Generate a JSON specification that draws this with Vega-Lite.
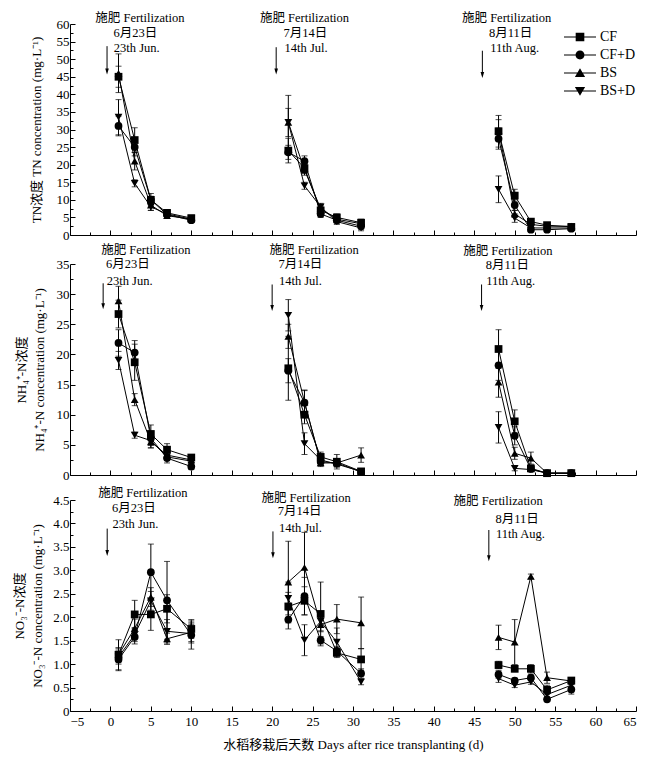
{
"$schema":"https://vega.github.io/schema/vega-lite/v6.json",
"background":"white",
"padding":{"left":13,"top":12,"right":5,"bottom":5},
"config":{"view":{"stroke":null},"font":"Liberation Serif",
 "axis":{"grid":false,"labelFont":"Liberation Serif","labelFontSize":13,"labelColor":"black","titleFont":"Liberation Serif, Noto Sans CJK SC","titleFontSize":13,"titleFontWeight":"normal","titleColor":"black","domainColor":"black","tickColor":"black","domainWidth":1,"tickWidth":1}},
"datasets":{
"tn":[
{"series":"CF","period":1,"day":1,"value":45,"sd":3},{"series":"CF","period":1,"day":3,"value":27,"sd":3.5},{"series":"CF","period":1,"day":5,"value":10,"sd":1.8},{"series":"CF","period":1,"day":7,"value":6.3,"sd":0.8},{"series":"CF","period":1,"day":10,"value":4.8,"sd":0.8},
{"series":"CF","period":2,"day":22,"value":24,"sd":3.5},{"series":"CF","period":2,"day":24,"value":19,"sd":1.5},{"series":"CF","period":2,"day":26,"value":7,"sd":1},{"series":"CF","period":2,"day":28,"value":5,"sd":1},{"series":"CF","period":2,"day":31,"value":3.5,"sd":1},
{"series":"CF","period":3,"day":48,"value":29.5,"sd":4.5},{"series":"CF","period":3,"day":50,"value":11.2,"sd":1.8},{"series":"CF","period":3,"day":52,"value":3.8,"sd":0.8},{"series":"CF","period":3,"day":54,"value":2.8,"sd":0.5},{"series":"CF","period":3,"day":57,"value":2.3,"sd":0.6},
{"series":"CF+D","period":1,"day":1,"value":31,"sd":2.8},{"series":"CF+D","period":1,"day":3,"value":25,"sd":2.5},{"series":"CF+D","period":1,"day":5,"value":10,"sd":1},{"series":"CF+D","period":1,"day":7,"value":5.8,"sd":0.6},{"series":"CF+D","period":1,"day":10,"value":4.2,"sd":0.6},
{"series":"CF+D","period":2,"day":22,"value":23.5,"sd":2},{"series":"CF+D","period":2,"day":24,"value":21,"sd":1.5},{"series":"CF+D","period":2,"day":26,"value":6,"sd":1},{"series":"CF+D","period":2,"day":28,"value":4.2,"sd":0.8},{"series":"CF+D","period":2,"day":31,"value":2.5,"sd":0.8},
{"series":"CF+D","period":3,"day":48,"value":27.4,"sd":3},{"series":"CF+D","period":3,"day":50,"value":8.5,"sd":1.5},{"series":"CF+D","period":3,"day":52,"value":1.5,"sd":0.5},{"series":"CF+D","period":3,"day":54,"value":1.5,"sd":0.5},{"series":"CF+D","period":3,"day":57,"value":1.8,"sd":0.5},
{"series":"BS","period":1,"day":1,"value":46,"sd":5.5},{"series":"BS","period":1,"day":3,"value":21,"sd":2.5},{"series":"BS","period":1,"day":5,"value":8.5,"sd":1.5},{"series":"BS","period":1,"day":7,"value":5.5,"sd":0.8},{"series":"BS","period":1,"day":10,"value":4.5,"sd":0.5},
{"series":"BS","period":2,"day":22,"value":32,"sd":7.7},{"series":"BS","period":2,"day":24,"value":18.5,"sd":1.5},{"series":"BS","period":2,"day":26,"value":7.5,"sd":1},{"series":"BS","period":2,"day":28,"value":4.5,"sd":1},{"series":"BS","period":2,"day":31,"value":3.2,"sd":1},
{"series":"BS","period":3,"day":48,"value":29.8,"sd":3},{"series":"BS","period":3,"day":50,"value":6,"sd":1},{"series":"BS","period":3,"day":52,"value":3,"sd":0.8},{"series":"BS","period":3,"day":54,"value":2.5,"sd":0.5},{"series":"BS","period":3,"day":57,"value":2.5,"sd":0.6},
{"series":"BS+D","period":1,"day":1,"value":33.5,"sd":5},{"series":"BS+D","period":1,"day":3,"value":14.7,"sd":1},{"series":"BS+D","period":1,"day":5,"value":8,"sd":1},{"series":"BS+D","period":1,"day":7,"value":6,"sd":0.7},{"series":"BS+D","period":1,"day":10,"value":4.5,"sd":0.5},
{"series":"BS+D","period":2,"day":22,"value":32,"sd":4},{"series":"BS+D","period":2,"day":24,"value":14,"sd":1},{"series":"BS+D","period":2,"day":26,"value":8,"sd":1},{"series":"BS+D","period":2,"day":28,"value":3.8,"sd":0.8},{"series":"BS+D","period":2,"day":31,"value":2,"sd":0.8},
{"series":"BS+D","period":3,"day":48,"value":13,"sd":3.8},{"series":"BS+D","period":3,"day":50,"value":4.8,"sd":1.2},{"series":"BS+D","period":3,"day":52,"value":2,"sd":0.6},{"series":"BS+D","period":3,"day":54,"value":2,"sd":0.5},{"series":"BS+D","period":3,"day":57,"value":2,"sd":0.5}
],
"nh4":[
{"series":"CF","period":1,"day":1,"value":26.7,"sd":2.3},{"series":"CF","period":1,"day":3,"value":18.7,"sd":3},{"series":"CF","period":1,"day":5,"value":6.8,"sd":1.5},{"series":"CF","period":1,"day":7,"value":4.2,"sd":1},{"series":"CF","period":1,"day":10,"value":2.9,"sd":0.4},
{"series":"CF","period":2,"day":22,"value":17.7,"sd":5.3},{"series":"CF","period":2,"day":24,"value":10,"sd":1.5},{"series":"CF","period":2,"day":26,"value":3,"sd":0.8},{"series":"CF","period":2,"day":28,"value":2.2,"sd":1.2},{"series":"CF","period":2,"day":31,"value":0.6,"sd":0.2},
{"series":"CF","period":3,"day":48,"value":20.9,"sd":3.2},{"series":"CF","period":3,"day":50,"value":8.9,"sd":1.9},{"series":"CF","period":3,"day":52,"value":1.1,"sd":0.5},{"series":"CF","period":3,"day":54,"value":0.3,"sd":0.1},{"series":"CF","period":3,"day":57,"value":0.3,"sd":0.1},
{"series":"CF+D","period":1,"day":1,"value":21.9,"sd":2.2},{"series":"CF+D","period":1,"day":3,"value":20.3,"sd":2},{"series":"CF+D","period":1,"day":5,"value":6.1,"sd":1.2},{"series":"CF+D","period":1,"day":7,"value":2.8,"sd":0.8},{"series":"CF+D","period":1,"day":10,"value":1.4,"sd":0.5},
{"series":"CF+D","period":2,"day":22,"value":17.3,"sd":2},{"series":"CF+D","period":2,"day":24,"value":12,"sd":2},{"series":"CF+D","period":2,"day":26,"value":2.2,"sd":0.6},{"series":"CF+D","period":2,"day":28,"value":2,"sd":0.6},{"series":"CF+D","period":2,"day":31,"value":0.5,"sd":0.2},
{"series":"CF+D","period":3,"day":48,"value":18.2,"sd":2.5},{"series":"CF+D","period":3,"day":50,"value":6.5,"sd":1.5},{"series":"CF+D","period":3,"day":52,"value":1,"sd":0.3},{"series":"CF+D","period":3,"day":54,"value":0.3,"sd":0.1},{"series":"CF+D","period":3,"day":57,"value":0.3,"sd":0.1},
{"series":"BS","period":1,"day":1,"value":28.9,"sd":2.4},{"series":"BS","period":1,"day":3,"value":12.5,"sd":1},{"series":"BS","period":1,"day":5,"value":5.5,"sd":1},{"series":"BS","period":1,"day":7,"value":3.3,"sd":0.6},{"series":"BS","period":1,"day":10,"value":2.5,"sd":0.4},
{"series":"BS","period":2,"day":22,"value":23,"sd":2},{"series":"BS","period":2,"day":24,"value":12.1,"sd":2},{"series":"BS","period":2,"day":26,"value":2,"sd":0.6},{"series":"BS","period":2,"day":28,"value":2,"sd":0.6},{"series":"BS","period":2,"day":31,"value":3.3,"sd":1.2},
{"series":"BS","period":3,"day":48,"value":15.4,"sd":2.5},{"series":"BS","period":3,"day":50,"value":3.6,"sd":1},{"series":"BS","period":3,"day":52,"value":2.8,"sd":1},{"series":"BS","period":3,"day":54,"value":0.3,"sd":0.1},{"series":"BS","period":3,"day":57,"value":0.3,"sd":0.1},
{"series":"BS+D","period":1,"day":1,"value":19,"sd":1.5},{"series":"BS+D","period":1,"day":3,"value":6.6,"sd":0.5},{"series":"BS+D","period":1,"day":5,"value":5.7,"sd":1.2},{"series":"BS+D","period":1,"day":7,"value":3,"sd":0.6},{"series":"BS+D","period":1,"day":10,"value":2.3,"sd":0.4},
{"series":"BS+D","period":2,"day":22,"value":26.5,"sd":2.6},{"series":"BS+D","period":2,"day":24,"value":5.2,"sd":1.8},{"series":"BS+D","period":2,"day":26,"value":2.5,"sd":0.6},{"series":"BS+D","period":2,"day":28,"value":1.8,"sd":0.5},{"series":"BS+D","period":2,"day":31,"value":0.6,"sd":0.2},
{"series":"BS+D","period":3,"day":48,"value":7.9,"sd":2.6},{"series":"BS+D","period":3,"day":50,"value":1.1,"sd":0.4},{"series":"BS+D","period":3,"day":52,"value":0.9,"sd":0.3},{"series":"BS+D","period":3,"day":54,"value":0.3,"sd":0.1},{"series":"BS+D","period":3,"day":57,"value":0.3,"sd":0.1}
],
"no3":[
{"series":"CF","period":1,"day":1,"value":1.2,"sd":0.32},{"series":"CF","period":1,"day":3,"value":2.06,"sd":0.3},{"series":"CF","period":1,"day":5,"value":2.06,"sd":0.34},{"series":"CF","period":1,"day":7,"value":2.18,"sd":0.3},{"series":"CF","period":1,"day":10,"value":1.75,"sd":0.2},
{"series":"CF","period":2,"day":22,"value":2.23,"sd":0.3},{"series":"CF","period":2,"day":24,"value":2.35,"sd":0.3},{"series":"CF","period":2,"day":26,"value":2.07,"sd":0.68},{"series":"CF","period":2,"day":28,"value":1.24,"sd":0.1},{"series":"CF","period":2,"day":31,"value":1.1,"sd":0.23},
{"series":"CF","period":3,"day":48,"value":0.98,"sd":0.08},{"series":"CF","period":3,"day":50,"value":0.9,"sd":0.06},{"series":"CF","period":3,"day":52,"value":0.9,"sd":0.09},{"series":"CF","period":3,"day":54,"value":0.45,"sd":0.1},{"series":"CF","period":3,"day":57,"value":0.65,"sd":0.06},
{"series":"CF+D","period":1,"day":1,"value":1.1,"sd":0.24},{"series":"CF+D","period":1,"day":3,"value":1.58,"sd":0.15},{"series":"CF+D","period":1,"day":5,"value":2.96,"sd":0.6},{"series":"CF+D","period":1,"day":7,"value":2.36,"sd":0.83},{"series":"CF+D","period":1,"day":10,"value":1.62,"sd":0.3},
{"series":"CF+D","period":2,"day":22,"value":1.95,"sd":0.2},{"series":"CF+D","period":2,"day":24,"value":2.45,"sd":0.4},{"series":"CF+D","period":2,"day":26,"value":1.51,"sd":0.08},{"series":"CF+D","period":2,"day":28,"value":1.28,"sd":0.1},{"series":"CF+D","period":2,"day":31,"value":0.8,"sd":0.1},
{"series":"CF+D","period":3,"day":48,"value":0.78,"sd":0.08},{"series":"CF+D","period":3,"day":50,"value":0.65,"sd":0.05},{"series":"CF+D","period":3,"day":52,"value":0.71,"sd":0.06},{"series":"CF+D","period":3,"day":54,"value":0.25,"sd":0.04},{"series":"CF+D","period":3,"day":57,"value":0.46,"sd":0.1},
{"series":"BS","period":1,"day":1,"value":1.2,"sd":0.15},{"series":"BS","period":1,"day":3,"value":1.76,"sd":0.2},{"series":"BS","period":1,"day":5,"value":2.43,"sd":0.2},{"series":"BS","period":1,"day":7,"value":1.54,"sd":0.12},{"series":"BS","period":1,"day":10,"value":1.68,"sd":0.2},
{"series":"BS","period":2,"day":22,"value":2.75,"sd":0.87},{"series":"BS","period":2,"day":24,"value":3.06,"sd":0.75},{"series":"BS","period":2,"day":26,"value":1.84,"sd":0.15},{"series":"BS","period":2,"day":28,"value":1.96,"sd":0.31},{"series":"BS","period":2,"day":31,"value":1.88,"sd":0.55},
{"series":"BS","period":3,"day":48,"value":1.57,"sd":0.26},{"series":"BS","period":3,"day":50,"value":1.47,"sd":0.48},{"series":"BS","period":3,"day":52,"value":2.87,"sd":0.05},{"series":"BS","period":3,"day":54,"value":0.71,"sd":0.12},{"series":"BS","period":3,"day":57,"value":0.64,"sd":0.06},
{"series":"BS+D","period":1,"day":1,"value":1.15,"sd":0.15},{"series":"BS+D","period":1,"day":3,"value":1.63,"sd":0.15},{"series":"BS+D","period":1,"day":5,"value":2.35,"sd":0.2},{"series":"BS+D","period":1,"day":7,"value":1.7,"sd":0.25},{"series":"BS+D","period":1,"day":10,"value":1.65,"sd":0.2},
{"series":"BS+D","period":2,"day":22,"value":2.4,"sd":0.35},{"series":"BS+D","period":2,"day":24,"value":1.51,"sd":0.33},{"series":"BS+D","period":2,"day":26,"value":1.91,"sd":0.2},{"series":"BS+D","period":2,"day":28,"value":1.47,"sd":0.3},{"series":"BS+D","period":2,"day":31,"value":0.62,"sd":0.06},
{"series":"BS+D","period":3,"day":48,"value":0.69,"sd":0.08},{"series":"BS+D","period":3,"day":50,"value":0.55,"sd":0.05},{"series":"BS+D","period":3,"day":52,"value":0.62,"sd":0.05},{"series":"BS+D","period":3,"day":54,"value":0.35,"sd":0.05},{"series":"BS+D","period":3,"day":57,"value":0.55,"sd":0.06}
],
"tn_text":[
{"day":3.65,"value":61.6,"label":"施肥 Fertilization"},{"day":3.1,"value":57.5,"label":"6月23日"},{"day":3.25,"value":53.1,"label":"23th Jun."},
{"day":24.0,"value":61.6,"label":"施肥 Fertilization"},{"day":24.1,"value":57.5,"label":"7月14日"},{"day":24.2,"value":53.1,"label":"14th Jul."},
{"day":49.0,"value":61.6,"label":"施肥 Fertilization"},{"day":49.5,"value":57.5,"label":"8月11日"},{"day":50.0,"value":53.1,"label":"11th Aug."}],
"tn_arrow":[{"day":-0.42,"value":53.7,"value2":46.5},{"day":20.5,"value":53.4,"value2":46.5},{"day":46.0,"value":52.4,"value2":45.5}],
"nh4_text":[
{"day":4.37,"value":37.3,"label":"施肥 Fertilization"},{"day":2.16,"value":35.0,"label":"6月23日"},{"day":2.37,"value":32.2,"label":"23th Jun."},
{"day":25.2,"value":37.3,"label":"施肥 Fertilization"},{"day":23.5,"value":35.0,"label":"7月14日"},{"day":23.5,"value":32.2,"label":"14th Jul."},
{"day":49.15,"value":37.1,"label":"施肥 Fertilization"},{"day":49.1,"value":34.9,"label":"8月11日"},{"day":49.5,"value":32.1,"label":"11th Aug."}],
"nh4_arrow":[{"day":-0.9,"value":31.8,"value2":28.0},{"day":20.0,"value":31.6,"value2":27.7},{"day":45.9,"value":31.6,"value2":27.7}],
"no3_text":[
{"day":4.0,"value":4.64,"label":"施肥 Fertilization"},{"day":2.9,"value":4.33,"label":"6月23日"},{"day":3.1,"value":3.99,"label":"23th Jun."},
{"day":24.2,"value":4.55,"label":"施肥 Fertilization"},{"day":23.4,"value":4.26,"label":"7月14日"},{"day":23.5,"value":3.91,"label":"14th Jul."},
{"day":47.96,"value":4.48,"label":"施肥 Fertilization"},{"day":50.3,"value":4.10,"label":"8月11日"},{"day":50.7,"value":3.77,"label":"11th Aug."}],
"no3_arrow":[{"day":-0.4,"value":3.89,"value2":3.37},{"day":20.1,"value":3.83,"value2":3.32},{"day":46.8,"value":3.86,"value2":3.26}]
},
"vconcat":[
{
"width":566,"height":211,
"resolve":{"axis":{"x":"independent","y":"independent"},"scale":{"shape":"independent"}},
"layer":[
{"data":{"name":"tn"},"mark":{"type":"errorbar","ticks":{"size":6},"color":"black","thickness":1},
 "encoding":{"x":{"field":"day","type":"quantitative","scale":{"domain":[-5,65],"nice":false,"zero":false},"axis":null},
  "y":{"field":"value","type":"quantitative","scale":{"domain":[0,60],"nice":false},"axis":null},"yError":{"field":"sd"}}},
{"data":{"name":"tn"},"mark":{"type":"line","color":"black","strokeWidth":1},
 "encoding":{"x":{"field":"day","type":"quantitative","scale":{"domain":[-5,65],"nice":false,"zero":false},
   "axis":{"orient":"bottom","values":[-5,0,5,10,15,20,25,30,35,40,45,50,55,60,65],"labels":false,"title":null,"tickSize":-5}},
  "y":{"field":"value","type":"quantitative","scale":{"domain":[0,60],"nice":false},
   "axis":{"orient":"left","values":[0,5,10,15,20,25,30,35,40,45,50,55,60],"tickSize":-5,"labelPadding":6,"title":"TN浓度 TN concentration (mg·L⁻¹)","titlePadding":13}},
  "detail":[{"field":"series"},{"field":"period"}]}},
{"data":{"name":"tn"},"mark":{"type":"point","filled":true,"color":"black","size":60,"opacity":1},
 "encoding":{"x":{"field":"day","type":"quantitative","scale":{"domain":[-5,65],"nice":false,"zero":false},
   "axis":{"orient":"bottom","values":[-2.5,2.5,7.5,12.5,17.5,22.5,27.5,32.5,37.5,42.5,47.5,52.5,57.5,62.5],"labels":false,"domain":false,"title":null,"tickSize":-3}},
  "y":{"field":"value","type":"quantitative","scale":{"domain":[0,60],"nice":false},
   "axis":{"orient":"left","values":[2.5,7.5,12.5,17.5,22.5,27.5,32.5,37.5,42.5,47.5,52.5,57.5],"labels":false,"domain":false,"title":null,"tickSize":-3}},
  "shape":{"field":"series","type":"nominal","scale":{"domain":["CF","CF+D","BS","BS+D"],"range":["square","circle","triangle-up","triangle-down"]},"legend":null}}},
{"data":{"name":"tn"},"mark":{"type":"point","filled":true,"color":"black","size":1024,"opacity":0},
 "encoding":{"x":{"field":"day","type":"quantitative","scale":{"domain":[-5,65],"nice":false,"zero":false},"axis":null},
  "y":{"field":"value","type":"quantitative","scale":{"domain":[0,60],"nice":false},"axis":null},
  "shape":{"field":"series","type":"nominal","scale":{"domain":["CF","CF+D","BS","BS+D"],"range":["M-1,-0.035H1V0.035H-1ZM-0.27,-0.27H0.27V0.27H-0.27Z","M-1,-0.035H1V0.035H-1ZM0.28,0A0.28,0.28,0,1,1,-0.28,0A0.28,0.28,0,1,1,0.28,0Z","M-1,-0.035H1V0.035H-1ZM0,-0.3L0.32,0.25L-0.32,0.25Z","M-1,-0.035H1V0.035H-1ZM0,0.3L-0.32,-0.25L0.32,-0.25Z"]},
   "legend":{"orient":"none","legendX":494,"legendY":4,"title":null,"symbolSize":1024,"symbolFillColor":"black","symbolStrokeColor":"black","symbolStrokeWidth":0,"symbolOpacity":1,"labelFont":"Liberation Serif","labelFontSize":14,"labelColor":"black","labelOffset":4,"clipHeight":18,"rowPadding":0,"padding":0}}}},
{"data":{"name":"tn_arrow"},"mark":{"type":"rule","color":"black","strokeWidth":1},
 "encoding":{"x":{"field":"day","type":"quantitative","scale":{"domain":[-5,65],"nice":false,"zero":false},"axis":null},
  "y":{"field":"value","type":"quantitative","scale":{"domain":[0,60],"nice":false},"axis":null},"y2":{"field":"value2"}}},
{"data":{"name":"tn_arrow"},"mark":{"type":"point","filled":true,"color":"black","size":36,"opacity":1,"shape":"M-0.6,-1H0.6L0,1Z"},
 "encoding":{"x":{"field":"day","type":"quantitative","scale":{"domain":[-5,65],"nice":false,"zero":false},"axis":null},
  "y":{"field":"value2","type":"quantitative","scale":{"domain":[0,60],"nice":false},"axis":null}}},
{"data":{"name":"tn_text"},"mark":{"type":"text","color":"black","font":"Liberation Serif, Noto Sans CJK SC","fontSize":12.5,"align":"center","baseline":"middle"},
 "encoding":{"x":{"field":"day","type":"quantitative","scale":{"domain":[-5,65],"nice":false,"zero":false},"axis":null},
  "y":{"field":"value","type":"quantitative","scale":{"domain":[0,60],"nice":false},"axis":null},"text":{"field":"label"}}}
]
},
{
"vconcat":[
{
"width":566,"height":211,
"resolve":{"axis":{"x":"independent","y":"independent"}},
"layer":[
{"data":{"name":"nh4"},"mark":{"type":"errorbar","ticks":{"size":6},"color":"black","thickness":1},
 "encoding":{"x":{"field":"day","type":"quantitative","scale":{"domain":[-5,65],"nice":false,"zero":false},"axis":null},
  "y":{"field":"value","type":"quantitative","scale":{"domain":[0,35],"nice":false},"axis":null},"yError":{"field":"sd"}}},
{"data":{"name":"nh4"},"mark":{"type":"line","color":"black","strokeWidth":1},
 "encoding":{"x":{"field":"day","type":"quantitative","scale":{"domain":[-5,65],"nice":false,"zero":false},
   "axis":{"orient":"bottom","values":[-5,0,5,10,15,20,25,30,35,40,45,50,55,60,65],"labels":false,"title":null,"tickSize":-5}},
  "y":{"field":"value","type":"quantitative","scale":{"domain":[0,35],"nice":false},
   "axis":{"orient":"left","values":[0,5,10,15,20,25,30,35],"tickSize":-5,"labelPadding":6,"title":["NH₄⁺-N浓度","NH₄⁺-N concentration (mg·L⁻¹)"],"titlePadding":10,"titleLineHeight":18}},
  "detail":[{"field":"series"},{"field":"period"}]}},
{"data":{"name":"nh4"},"mark":{"type":"point","filled":true,"color":"black","size":60,"opacity":1},
 "encoding":{"x":{"field":"day","type":"quantitative","scale":{"domain":[-5,65],"nice":false,"zero":false},
   "axis":{"orient":"bottom","values":[-2.5,2.5,7.5,12.5,17.5,22.5,27.5,32.5,37.5,42.5,47.5,52.5,57.5,62.5],"labels":false,"domain":false,"title":null,"tickSize":-3}},
  "y":{"field":"value","type":"quantitative","scale":{"domain":[0,35],"nice":false},
   "axis":{"orient":"left","values":[2.5,7.5,12.5,17.5,22.5,27.5,32.5],"labels":false,"domain":false,"title":null,"tickSize":-3}},
  "shape":{"field":"series","type":"nominal","scale":{"domain":["CF","CF+D","BS","BS+D"],"range":["square","circle","triangle-up","triangle-down"]},"legend":null}}},
{"data":{"name":"nh4_arrow"},"mark":{"type":"rule","color":"black","strokeWidth":1},
 "encoding":{"x":{"field":"day","type":"quantitative","scale":{"domain":[-5,65],"nice":false,"zero":false},"axis":null},
  "y":{"field":"value","type":"quantitative","scale":{"domain":[0,35],"nice":false},"axis":null},"y2":{"field":"value2"}}},
{"data":{"name":"nh4_arrow"},"mark":{"type":"point","filled":true,"color":"black","size":36,"opacity":1,"shape":"M-0.6,-1H0.6L0,1Z"},
 "encoding":{"x":{"field":"day","type":"quantitative","scale":{"domain":[-5,65],"nice":false,"zero":false},"axis":null},
  "y":{"field":"value2","type":"quantitative","scale":{"domain":[0,35],"nice":false},"axis":null}}},
{"data":{"name":"nh4_text"},"mark":{"type":"text","color":"black","font":"Liberation Serif, Noto Sans CJK SC","fontSize":12.5,"align":"center","baseline":"middle"},
 "encoding":{"x":{"field":"day","type":"quantitative","scale":{"domain":[-5,65],"nice":false,"zero":false},"axis":null},
  "y":{"field":"value","type":"quantitative","scale":{"domain":[0,35],"nice":false},"axis":null},"text":{"field":"label"}}}
]
},
{
"width":566,"height":211,
"resolve":{"axis":{"x":"independent","y":"independent"}},
"layer":[
{"data":{"name":"no3"},"mark":{"type":"errorbar","ticks":{"size":6},"color":"black","thickness":1},
 "encoding":{"x":{"field":"day","type":"quantitative","scale":{"domain":[-5,65],"nice":false,"zero":false},"axis":null},
  "y":{"field":"value","type":"quantitative","scale":{"domain":[0,4.5],"nice":false},"axis":null},"yError":{"field":"sd"}}},
{"data":{"name":"no3"},"mark":{"type":"line","color":"black","strokeWidth":1},
 "encoding":{"x":{"field":"day","type":"quantitative","scale":{"domain":[-5,65],"nice":false,"zero":false},
   "axis":{"orient":"bottom","values":[-5,0,5,10,15,20,25,30,35,40,45,50,55,60,65],"tickSize":-5,"labelPadding":9,"title":"水稻移栽后天数 Days after rice transplanting (d)","titlePadding":10}},
  "y":{"field":"value","type":"quantitative","scale":{"domain":[0,4.5],"nice":false},
   "axis":{"orient":"left","values":[0,0.5,1,1.5,2,2.5,3,3.5,4,4.5],"labelExpr":"datum.value === 0 ? '0' : format(datum.value, '.1f')","tickSize":-5,"labelPadding":6,"title":["NO₃⁻-N浓度","NO₃⁻-N concentration (mg·L⁻¹)"],"titlePadding":8,"titleLineHeight":18}},
  "detail":[{"field":"series"},{"field":"period"}]}},
{"data":{"name":"no3"},"mark":{"type":"point","filled":true,"color":"black","size":60,"opacity":1},
 "encoding":{"x":{"field":"day","type":"quantitative","scale":{"domain":[-5,65],"nice":false,"zero":false},
   "axis":{"orient":"bottom","values":[-2.5,2.5,7.5,12.5,17.5,22.5,27.5,32.5,37.5,42.5,47.5,52.5,57.5,62.5],"labels":false,"domain":false,"title":null,"tickSize":-3}},
  "y":{"field":"value","type":"quantitative","scale":{"domain":[0,4.5],"nice":false},
   "axis":{"orient":"left","values":[0.25,0.75,1.25,1.75,2.25,2.75,3.25,3.75,4.25],"labels":false,"domain":false,"title":null,"tickSize":-3}},
  "shape":{"field":"series","type":"nominal","scale":{"domain":["CF","CF+D","BS","BS+D"],"range":["square","circle","triangle-up","triangle-down"]},"legend":null}}},
{"data":{"name":"no3_arrow"},"mark":{"type":"rule","color":"black","strokeWidth":1},
 "encoding":{"x":{"field":"day","type":"quantitative","scale":{"domain":[-5,65],"nice":false,"zero":false},"axis":null},
  "y":{"field":"value","type":"quantitative","scale":{"domain":[0,4.5],"nice":false},"axis":null},"y2":{"field":"value2"}}},
{"data":{"name":"no3_arrow"},"mark":{"type":"point","filled":true,"color":"black","size":36,"opacity":1,"shape":"M-0.6,-1H0.6L0,1Z"},
 "encoding":{"x":{"field":"day","type":"quantitative","scale":{"domain":[-5,65],"nice":false,"zero":false},"axis":null},
  "y":{"field":"value2","type":"quantitative","scale":{"domain":[0,4.5],"nice":false},"axis":null}}},
{"data":{"name":"no3_text"},"mark":{"type":"text","color":"black","font":"Liberation Serif, Noto Sans CJK SC","fontSize":12.5,"align":"center","baseline":"middle"},
 "encoding":{"x":{"field":"day","type":"quantitative","scale":{"domain":[-5,65],"nice":false,"zero":false},"axis":null},
  "y":{"field":"value","type":"quantitative","scale":{"domain":[0,4.5],"nice":false},"axis":null},"text":{"field":"label"}}}
]
}
],
"spacing":25,"bounds":"flush",
"resolve":{"scale":{"shape":"independent"},"legend":{"shape":"independent"}}
}
],
"spacing":29,"bounds":"flush",
"resolve":{"scale":{"shape":"independent"},"legend":{"shape":"independent"}}
}
